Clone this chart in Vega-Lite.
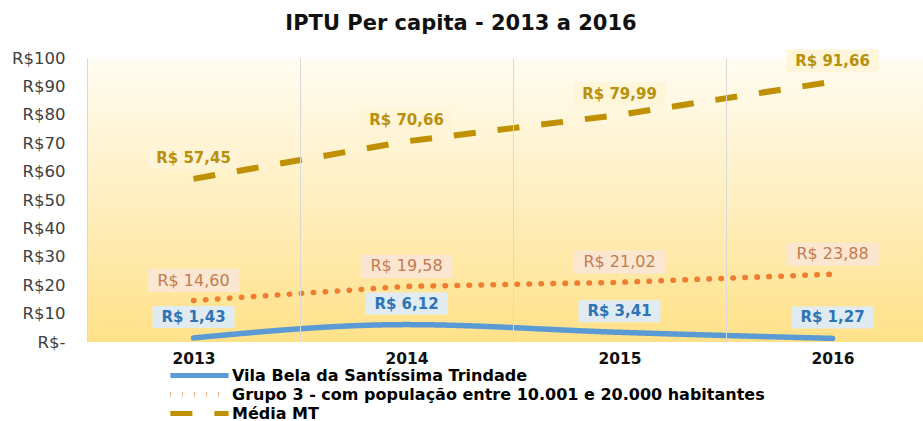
{
  "$schema": "https://vega.github.io/schema/vega-lite/v6.json",
  "autosize": {"type": "none"},
  "width": 836,
  "height": 284,
  "padding": {"left": 87, "top": 58, "right": 0, "bottom": 79},
  "background": "#ffffff",
  "title": {
    "text": "IPTU Per capita - 2013 a 2016",
    "font": "DejaVu Sans",
    "fontSize": 21,
    "fontWeight": "bold",
    "color": "#111111",
    "anchor": "middle",
    "frame": "group",
    "dx": -44,
    "baseline": "alphabetic",
    "offset": -2
  },
  "config": {
    "locale": {"number": {"decimal": ",", "thousands": ".", "grouping": [3], "currency": ["R$ ", ""]}},
    "view": {
      "stroke": null,
      "fill": {
        "gradient": "linear", "x1": 0, "y1": 0, "x2": 0, "y2": 1,
        "stops": [
          {"offset": 0, "color": "#FFFCF2"},
          {"offset": 0.5, "color": "#FFEFC0"},
          {"offset": 1, "color": "#FFE188"}
        ]
      }
    }
  },
  "data": {
    "values": [
      {"ano": "2013", "serie": "Vila Bela da Santíssima Trindade", "valor": 1.43},
      {"ano": "2014", "serie": "Vila Bela da Santíssima Trindade", "valor": 6.12},
      {"ano": "2015", "serie": "Vila Bela da Santíssima Trindade", "valor": 3.41},
      {"ano": "2016", "serie": "Vila Bela da Santíssima Trindade", "valor": 1.27},
      {"ano": "2013", "serie": "Grupo 3 - com população entre 10.001 e 20.000 habitantes", "valor": 14.60},
      {"ano": "2014", "serie": "Grupo 3 - com população entre 10.001 e 20.000 habitantes", "valor": 19.58},
      {"ano": "2015", "serie": "Grupo 3 - com população entre 10.001 e 20.000 habitantes", "valor": 21.02},
      {"ano": "2016", "serie": "Grupo 3 - com população entre 10.001 e 20.000 habitantes", "valor": 23.88},
      {"ano": "2013", "serie": "Média MT", "valor": 57.45},
      {"ano": "2014", "serie": "Média MT", "valor": 70.66},
      {"ano": "2015", "serie": "Média MT", "valor": 79.99},
      {"ano": "2016", "serie": "Média MT", "valor": 91.66}
    ]
  },
  "encoding": {
    "x": {
      "field": "ano", "type": "ordinal", "bandPosition": 0.5,
      "scale": {"type": "band", "range": [0, 852], "paddingInner": 0, "paddingOuter": 0},
      "axis": {
        "title": null, "grid": true, "tickBand": "extent", "gridColor": "#D9D9D9", "gridWidth": 1,
        "ticks": false, "domain": false, "labelAngle": 0,
        "labelFont": "DejaVu Sans", "labelFontSize": 15.5, "labelFontWeight": "bold", "labelColor": "#111111",
        "labelPadding": 9
      }
    },
    "y": {
      "field": "valor", "type": "quantitative",
      "scale": {"domain": [0, 100], "nice": false},
      "axis": {
        "title": null, "grid": false, "ticks": false, "domain": false,
        "values": [0, 10, 20, 30, 40, 50, 60, 70, 80, 90, 100],
        "labelExpr": "datum.value === 0 ? 'R$-' : 'R$' + datum.value",
        "labelFont": "DejaVu Sans", "labelFontSize": 16.5, "labelColor": "#404040",
        "labelPadding": 22
      }
    }
  },
  "layer": [
    {
      "transform": [{"filter": "datum.serie === 'Média MT'"}],
      "mark": {"type": "rect", "width": 92, "height": 23, "yOffset": -21, "fill": "#FFF4D6", "opacity": 0.9},
      "encoding": {}
    },
    {
      "transform": [{"filter": "datum.serie === 'Grupo 3 - com população entre 10.001 e 20.000 habitantes'"}],
      "mark": {"type": "rect", "width": 92, "height": 23, "yOffset": -20, "fill": "#FBE5D6", "opacity": 0.9},
      "encoding": {}
    },
    {
      "transform": [{"filter": "datum.serie === 'Vila Bela da Santíssima Trindade'"}],
      "mark": {"type": "rect", "width": 82, "height": 22, "yOffset": -21, "fill": "#DEEBF7", "opacity": 0.95},
      "encoding": {}
    },
    {
      "transform": [{"filter": "datum.serie === 'Média MT'"}],
      "mark": {"type": "line", "strokeWidth": 6, "strokeCap": "butt"},
      "encoding": {
        "color": {"field": "serie", "type": "nominal",
          "scale": {"domain": ["Vila Bela da Santíssima Trindade", "Grupo 3 - com população entre 10.001 e 20.000 habitantes", "Média MT"], "range": ["#5B9BD5", "#ED7D31", "#BF9000"]},
          "legend": {
            "title": null, "orient": "none", "legendX": 104, "legendY": 309, "padding": 0,
            "symbolType": "M-4.85,0H4.85", "symbolSize": 144, "symbolStrokeWidth": 5,
            "labelFont": "DejaVu Sans", "labelFontSize": 16, "labelFontWeight": "bold", "labelColor": "#000000",
            "labelOffset": 24, "rowPadding": -2.5, "labelLimit": 700
          }
        },
        "strokeDash": {"field": "serie", "type": "nominal",
          "scale": {"domain": ["Vila Bela da Santíssima Trindade", "Grupo 3 - com população entre 10.001 e 20.000 habitantes", "Média MT"], "range": [[1, 0], [0.5, 11.5], [22, 22]]},
          "legend": {
            "title": null, "orient": "none", "legendX": 104, "legendY": 309, "padding": 0,
            "symbolType": "M-4.85,0H4.85", "symbolSize": 144, "symbolStrokeWidth": 5,
            "labelFont": "DejaVu Sans", "labelFontSize": 16, "labelFontWeight": "bold", "labelColor": "#000000",
            "labelOffset": 24, "rowPadding": -2.5, "labelLimit": 700
          }
        }
      }
    },
    {
      "transform": [{"filter": "datum.serie === 'Grupo 3 - com população entre 10.001 e 20.000 habitantes'"}],
      "mark": {"type": "line", "strokeWidth": 5.5, "strokeCap": "round"},
      "encoding": {
        "color": {"field": "serie", "type": "nominal"},
        "strokeDash": {"field": "serie", "type": "nominal"}
      }
    },
    {
      "transform": [{"filter": "datum.serie === 'Vila Bela da Santíssima Trindade'"}],
      "mark": {"type": "line", "strokeWidth": 5.5, "strokeCap": "round", "interpolate": "monotone"},
      "encoding": {
        "color": {"field": "serie", "type": "nominal"},
        "strokeDash": {"field": "serie", "type": "nominal"}
      }
    },
    {
      "transform": [{"filter": "datum.serie === 'Média MT'"}],
      "mark": {"type": "text", "dy": -21, "font": "DejaVu Sans", "fontSize": 15, "fontWeight": "bold", "fill": "#B8900C", "baseline": "middle"},
      "encoding": {"text": {"field": "valor", "type": "quantitative", "format": "$.2f"}}
    },
    {
      "transform": [{"filter": "datum.serie === 'Grupo 3 - com população entre 10.001 e 20.000 habitantes'"}],
      "mark": {"type": "text", "dy": -20, "font": "DejaVu Sans", "fontSize": 16, "fill": "#C47B4E", "baseline": "middle"},
      "encoding": {"text": {"field": "valor", "type": "quantitative", "format": "$.2f"}}
    },
    {
      "transform": [{"filter": "datum.serie === 'Vila Bela da Santíssima Trindade'"}],
      "mark": {"type": "text", "dy": -21, "font": "DejaVu Sans", "fontSize": 15, "fontWeight": "bold", "fill": "#2F74B5", "baseline": "middle"},
      "encoding": {"text": {"field": "valor", "type": "quantitative", "format": "$.2f"}}
    }
  ]
}
